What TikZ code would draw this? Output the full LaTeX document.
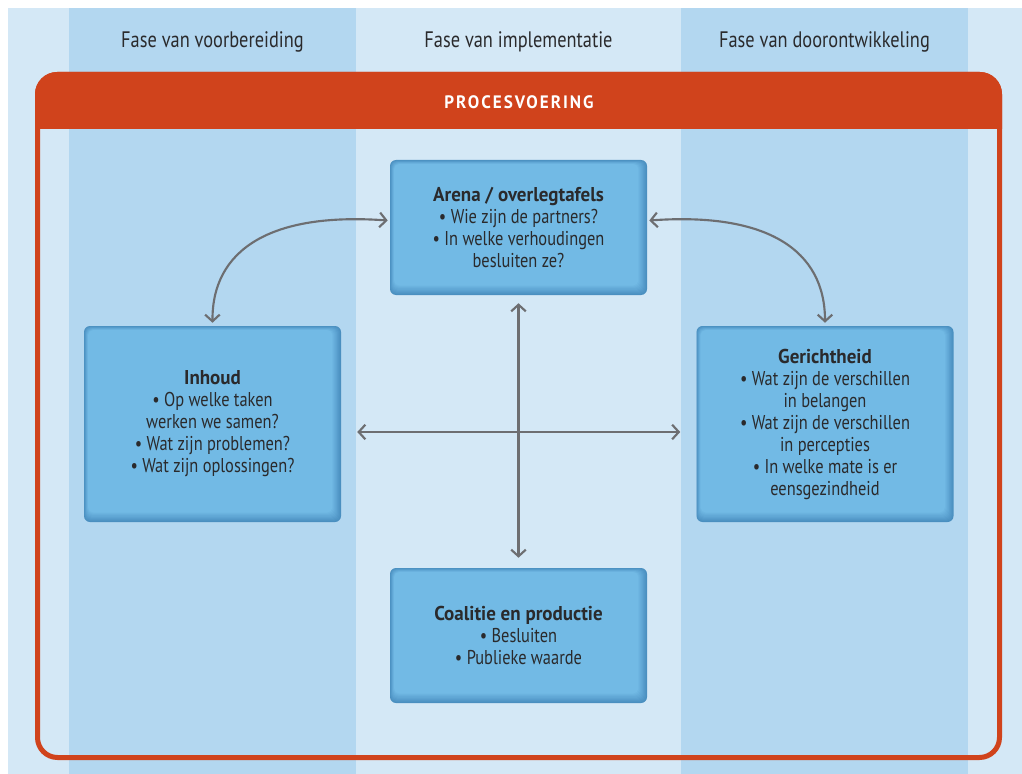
\documentclass[tikz,border=0pt]{standalone}
\usepackage{fontspec}
\setmainfont{PT Sans}[FakeStretch=0.82, BoldFeatures={FakeStretch=0.95}]
\usetikzlibrary{arrows.meta,calc}
\definecolor{bgl}{HTML}{D4E8F6}
\definecolor{bgc}{HTML}{B3D7F0}
\definecolor{rood}{HTML}{D0431C}
\definecolor{boxf}{HTML}{72BAE6}
\definecolor{boxe}{HTML}{4A8FC0}
\definecolor{pijl}{HTML}{6D6E71}
\definecolor{tekst}{HTML}{2A2A2C}
\tikzset{
  blok/.style={rectangle, fill=boxe, rounded corners=4.5pt, inner sep=0pt,
    minimum width=257*0.75pt, text=tekst, align=center,
    font=\fontsize{15pt}{16.5pt}\selectfont,
    path picture={
      \foreach \i in {1,...,9} {
        \pgfmathtruncatemacro\p{\i*11}
        \fill[boxf!\p!boxe, rounded corners=4pt] ($(path picture bounding box.north west)+(\i*0.45,\i*0.45)$) rectangle ($(path picture bounding box.south east)+(-\i*0.95,-\i*1.05)$);
      }
    }},
  fase/.style={text=tekst, font=\fontsize{16.8pt}{18pt}\selectfont},
  pijlen/.style={draw=pijl, line width=1.6pt, {Straight Barb[length=5pt,width=11pt,line width=1.6pt]}-{Straight Barb[length=5pt,width=11pt,line width=1.6pt]}}
}
\begin{document}
\begin{tikzpicture}[x=0.75pt,y=-0.75pt]
\useasboundingbox (0,0) rectangle (1022,774);
\fill[white] (0,0) rectangle (1022,774);
\fill[bgl] (8,8) rectangle (1022,774);
\fill[bgc] (69,8) rectangle (356,774);
\fill[bgc] (681,8) rectangle (968,774);

\node[fase] (f1) at (212.5,42) {Fase van voorbereiding};
\node[fase] (f2) at (518.5,42) {Fase van implementatie};
\node[fase] (f3) at (824.5,42) {Fase van doorontwikkeling};

% frame
\draw[rood, line width=3.75pt, rounded corners=15pt] (37.5,74.5) rectangle (999.5,757.5);
\begin{scope}
\clip (0,72) rectangle (1022,129);
\fill[rood, rounded corners=16.5pt] (35,72) rectangle (1002,300);
\end{scope}
\node[text=white, font=\bfseries\fontsize{13.5pt}{15pt}\selectfont\addfontfeature{LetterSpace=11}] (proc) at (519,102) {PROCESVOERING};

% boxes
\node[blok, minimum height=135*0.75pt] (arena) at (518.5,227.5)
  {\textbf{Arena / overlegtafels}\\• Wie zijn de partners?\\• In welke verhoudingen\\besluiten ze?};
\node[blok, minimum height=196*0.75pt] (inhoud) at (212.5,424)
  {\textbf{Inhoud}\\• Op welke taken\\werken we samen?\\• Wat zijn problemen?\\• Wat zijn oplossingen?};
\node[blok, minimum height=196*0.75pt] (gericht) at (825,424)
  {\textbf{Gerichtheid}\\• Wat zijn de verschillen\\in belangen\\• Wat zijn de verschillen\\in percepties\\• In welke mate is er\\eensgezindheid};
\node[blok, minimum height=135*0.75pt] (coal) at (518.5,635.5)
  {\textbf{Coalitie en productie}\\• Besluiten\\• Publieke waarde};

% connectors
\draw[pijlen] ($(arena.south)+(0,8)$) -- ($(coal.north)+(0,-10)$);
\draw[pijlen] ($(inhoud.east)+(16,8)$) -- ($(gericht.west)+(-16,8)$);
\draw[pijlen] ($(arena.west)+(-2,-7)$) .. controls (270,212) and (212,250) .. ($(inhoud.north)+(0,-3)$);
\draw[pijlen] ($(arena.east)+(2,-7)$) .. controls (767,212) and (825,250) .. ($(gericht.north)+(0,-3)$);
\end{tikzpicture}
\end{document}
